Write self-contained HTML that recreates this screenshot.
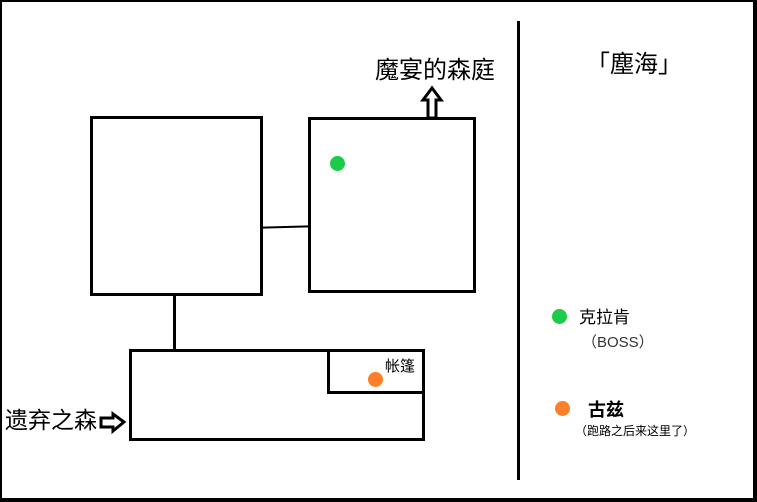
<!DOCTYPE html>
<html><head><meta charset="utf-8"><style>
body{margin:0;width:757px;height:502px;overflow:hidden;background:#fff;position:relative;font-family:"Liberation Sans","Noto Sans CJK SC",sans-serif}
.b{position:absolute;border:3px solid #000;box-sizing:border-box}
.t{position:absolute;white-space:nowrap;color:#000;line-height:1}
.d{position:absolute;border-radius:50%}
</style></head><body>
<div class="b" style="left:0;top:0;width:757px;height:502px;border-width:2px 4px 4px 2px"></div>
<div class="b" style="left:90px;top:116px;width:173px;height:180px"></div>
<div class="b" style="left:308px;top:117px;width:168px;height:176px"></div>
<div style="position:absolute;left:262px;top:226px;width:47px;height:2px;background:#000;transform:rotate(-1.5deg)"></div>
<div style="position:absolute;left:173px;top:295px;width:3px;height:56px;background:#000"></div>
<div class="b" style="left:129px;top:349px;width:296px;height:92px"></div>
<div class="b" style="left:327px;top:349px;width:98px;height:45px"></div>
<div style="position:absolute;left:517px;top:21px;width:3px;height:459px;background:#000"></div>
<svg style="position:absolute;left:0;top:0" width="757" height="502">
<polygon points="432,88 423,100 428,100 428,118 436,118 436,100 441,100" fill="#fff" stroke="#000" stroke-width="3"/>
<polygon points="124,422 113,414 113,418 101,418 101,427 113,427 113,431" fill="#fff" stroke="#000" stroke-width="3"/>
</svg>
<div class="d" style="left:330px;top:156px;width:15px;height:15px;background:#1ccb47"></div>
<div class="d" style="left:552px;top:309px;width:15px;height:15px;background:#1ccb47"></div>
<div class="d" style="left:368px;top:372px;width:15px;height:15px;background:#fc7f2b"></div>
<div class="d" style="left:555px;top:401px;width:15px;height:15px;background:#fc7f2b"></div>
<div class="t" style="left:375px;top:59px;font-size:24px">魔宴的森庭</div>
<div class="t" style="left:586px;top:53px;font-size:24px">「塵海」</div>
<div class="t" style="left:5px;top:409px;font-size:23px">遗弃之森</div>
<div class="t" style="left:385px;top:359px;font-size:15px">帐篷</div>
<div class="t" style="left:579px;top:309px;font-size:17px">克拉肯</div>
<div class="t" style="left:582px;top:335px;font-size:15px;color:#333">（BOSS）</div>
<div class="t" style="left:588px;top:401px;font-size:18px;font-weight:bold">古兹</div>
<div class="t" style="left:575px;top:425px;font-size:12px">（跑路之后来这里了）</div>
</body></html>
